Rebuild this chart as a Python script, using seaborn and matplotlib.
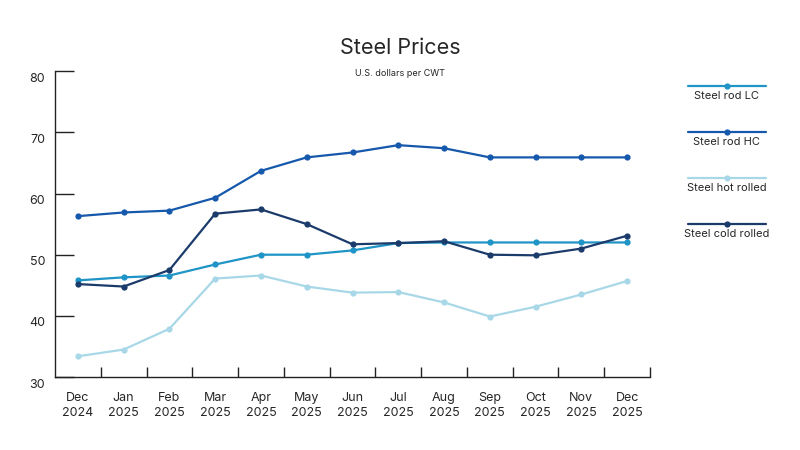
import pandas as pd
import numpy as np
import matplotlib
matplotlib.use('Agg')
import matplotlib.pyplot as plt
import matplotlib.transforms as mtransforms
from matplotlib.lines import Line2D
from matplotlib.ticker import FixedLocator
import seaborn as sns

sns.set_style('white')
plt.rcParams['font.family'] = ['Inter', 'DejaVu Sans']

months = ['Dec\n2024', 'Jan\n2025', 'Feb\n2025', 'Mar\n2025', 'Apr\n2025', 'May\n2025', 'Jun\n2025',
          'Jul\n2025', 'Aug\n2025', 'Sep\n2025', 'Oct\n2025', 'Nov\n2025', 'Dec\n2025']
rod_lc = [45.8, 46.3, 46.6, 48.4, 50.0, 50.0, 50.7, 51.9, 52.0, 52.0, 52.0, 52.0, 52.0]
rod_hc = [56.3, 56.9, 57.2, 59.3, 63.7, 65.9, 66.7, 67.9, 67.4, 65.9, 65.9, 65.9, 65.9]
hot_rolled = [33.4, 34.5, 37.9, 46.1, 46.6, 44.8, 43.8, 43.9, 42.2, 39.9, 41.5, 43.5, 45.7]
cold_rolled = [45.2, 44.8, 47.5, 56.7, 57.4, 55.0, 51.7, 51.9, 52.2, 50.0, 49.9, 51.0, 53.1]

series = ['Steel rod LC', 'Steel rod HC', 'Steel hot rolled', 'Steel cold rolled']
colors = ['#1f94c6', '#1658ab', '#a8d8e8', '#1b3b6b']

df = pd.DataFrame({
    'Month': months * 4,
    'Price': rod_lc + rod_hc + hot_rolled + cold_rolled,
    'Series': [s for s in series for _ in months],
})

fig = plt.figure(figsize=(8, 4.5), dpi=100)
ax = fig.add_axes([0.06875, 0.162, 0.74375, 0.68])

sns.lineplot(data=df, x='Month', y='Price', hue='Series', hue_order=series,
             palette=dict(zip(series, colors)), marker='o', markersize=4.5,
             markeredgewidth=0, linewidth=1.6, sort=False, ax=ax, legend=False)

ax.set_xlim(-0.5, 12.5)
ax.set_ylim(30, 80)
ax.set_yticks([30, 40, 50, 60, 70, 80])
ax.set_xticks(range(len(months)))
ax.set_xticklabels(months, linespacing=1.3)
ax.xaxis.set_minor_locator(FixedLocator(np.arange(0.5, 12.6, 1)))
ax.tick_params(axis='x', which='major', bottom=True, length=0, pad=11, labelsize=9)
ax.tick_params(axis='x', which='minor', bottom=True, direction='in', length=7, width=1, color='#222222')
ax.tick_params(axis='y', which='major', left=True, direction='in', length=14, width=1, color='#222222',
               labelsize=9, pad=7)
# y labels sit slightly below their ticks in the original
shift = mtransforms.ScaledTranslation(0, -6 / 100, fig.dpi_scale_trans)
for lab in ax.get_yticklabels():
    lab.set_transform(lab.get_transform() + shift)
ax.set_xlabel('')
ax.set_ylabel('')
for s in ['top', 'right']:
    ax.spines[s].set_visible(False)
for s in ['left', 'bottom']:
    ax.spines[s].set_color('#222222')
    ax.spines[s].set_linewidth(1)

fig.text(0.5, 0.893, 'Steel Prices', ha='center', va='center', fontsize=15.5)
fig.text(0.5, 0.836, 'U.S. dollars per CWT', ha='center', va='center', fontsize=6.5)

# legend: line with marker above each label
for i, (name, col) in enumerate(zip(series, colors)):
    y = 1 - (86 + 46 * i) / 450
    fig.add_artist(Line2D([0.86, 0.957], [y, y], color=col, linewidth=1.6, transform=fig.transFigure))
    fig.add_artist(Line2D([0.9085], [y], color=col, marker='o', markersize=4.5,
                          markeredgewidth=0, transform=fig.transFigure))
    fig.text(0.9085, y - 0.022, name, ha='center', va='center', fontsize=8)

fig.savefig('out.png', dpi=100)
